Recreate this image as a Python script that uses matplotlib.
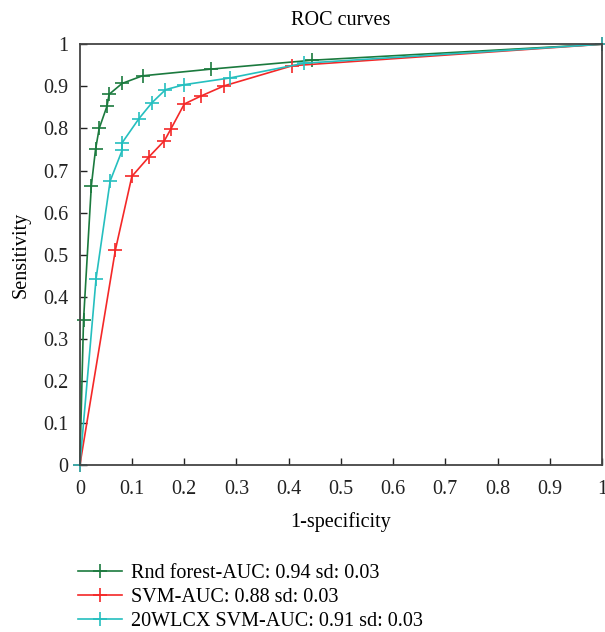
import matplotlib
matplotlib.use('Agg')
import matplotlib.pyplot as plt

# ROC points
rf_x = [0, 0.007, 0.022, 0.030, 0.037, 0.052, 0.056, 0.081, 0.120, 0.252, 0.445, 1]
rf_y = [0, 0.344, 0.664, 0.750, 0.800, 0.853, 0.881, 0.907, 0.925, 0.941, 0.962, 1]

svm_x = [0, 0.068, 0.0996, 0.132, 0.162, 0.174, 0.200, 0.232, 0.276, 0.407, 1]
svm_y = [0, 0.511, 0.686, 0.732, 0.771, 0.798, 0.858, 0.877, 0.901, 0.949, 1]

wl_x = [0, 0.031, 0.058, 0.081, 0.081, 0.113, 0.138, 0.164, 0.200, 0.288, 0.430, 1]
wl_y = [0, 0.443, 0.675, 0.748, 0.766, 0.823, 0.861, 0.892, 0.904, 0.920, 0.955, 1]

labels = ['Rnd forest-AUC: 0.94 sd: 0.03',
          'SVM-AUC: 0.88 sd: 0.03',
          '20WLCX SVM-AUC: 0.91 sd: 0.03']
colors = ['#1b7a3e', '#f42828', '#25bfbf']
ticks = [0, 0.1, 0.2, 0.3, 0.4, 0.5, 0.6, 0.7, 0.8, 0.9, 1]
tick_labels = ['0', '0.1', '0.2', '0.3', '0.4', '0.5', '0.6', '0.7', '0.8', '0.9', '1']

plt.rcParams['font.family'] = ['Liberation Serif', 'DejaVu Serif']

fig = plt.figure(figsize=(6.05, 6.32), dpi=100)
ax = fig.add_axes([0.132, 0.264, 0.863, 0.666])

series = [(rf_x, rf_y), (svm_x, svm_y), (wl_x, wl_y)]
for (xs, ys), c, lab in zip(series, colors, labels):
    ax.plot(xs, ys, color=c, marker='+', markersize=10, markeredgewidth=1.2,
            linewidth=1.2, label=lab, clip_on=False)

ax.set_xlim(0, 1)
ax.set_ylim(0, 1)
ax.set_xticks(ticks)
ax.set_xticklabels(tick_labels)
ax.set_yticks(ticks)
ax.set_yticklabels(tick_labels)
ax.tick_params(direction='in', length=5, width=1, labelsize=14.5, colors='#222222', pad=8)
ax.tick_params(axis='x', pad=11)
for s in ax.spines.values():
    s.set_color('#444444')
    s.set_linewidth(1.3)

ax.set_title('ROC curves', fontsize=14.5, pad=14)
ax.set_xlabel('1-specificity', fontsize=14.5, labelpad=9)
ax.set_ylabel('Sensitivity', fontsize=14.5, labelpad=9)

fig.legend(loc='upper left', bbox_to_anchor=(0.115, 0.121), frameon=False,
           fontsize=14.5, handlelength=2.2, handletextpad=0.45, labelspacing=0.25,
           borderaxespad=0)

fig.savefig('out.png', dpi=100)
